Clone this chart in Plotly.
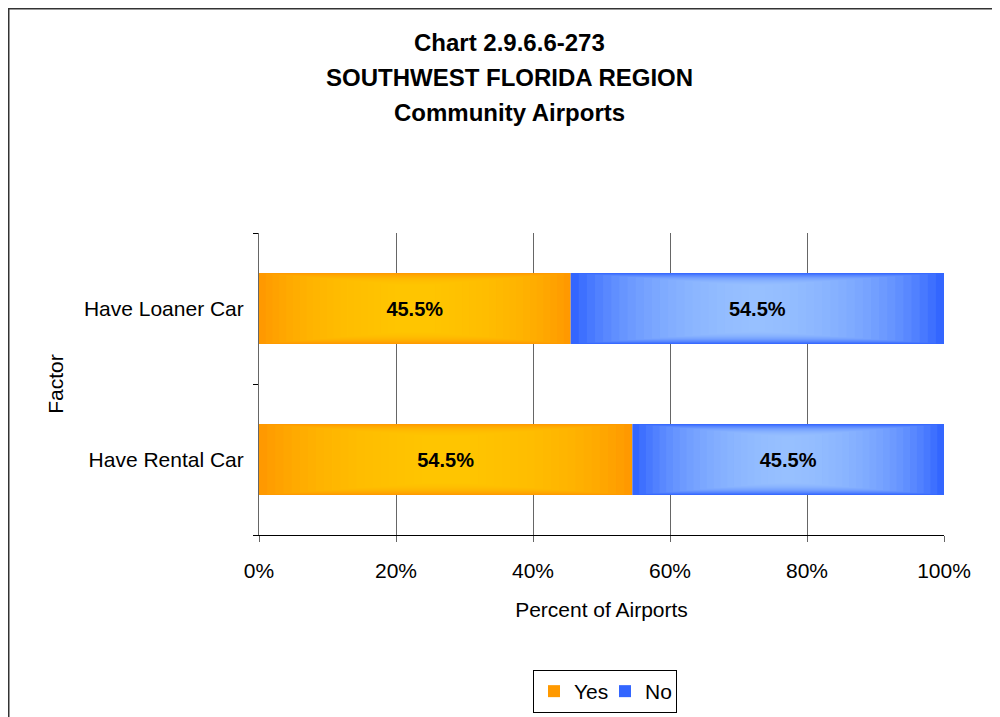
import plotly.graph_objects as go

categories = ["Have Rental Car", "Have Loaner Car"]
yes_vals = [54.5, 45.5]
no_vals = [45.5, 54.5]
x_ticks = [0, 20, 40, 60, 80, 100]
x_tick_labels = ["0%", "20%", "40%", "60%", "80%", "100%"]
title_lines = ["Chart 2.9.6.6-273", "SOUTHWEST FLORIDA REGION", "Community Airports"]

FONT = "Liberation Sans, Arial, sans-serif"
BAR_W = 0.47
N_LAYERS = 22
LAYER_OPACITY = 0.10

series = [
    dict(name="Yes", vals=yes_vals, base=[0 for _ in yes_vals],
         edge="#FF9900", center="#FFD000"),
    dict(name="No", vals=no_vals, base=yes_vals,
         edge="#3366FF", center="#A8D0FF"),
]

fig = go.Figure()

# base bars (edge colour) + gradient layers
for s in series:
    fig.add_trace(go.Bar(
        y=categories, x=s["vals"], base=s["base"], name=s["name"],
        orientation="h", width=BAR_W,
        marker=dict(color=s["edge"], line=dict(width=0)),
        hoverinfo="skip", legendgroup=s["name"],
    ))
    for k in range(1, N_LAYERS + 1):
        h = 1 - k / (N_LAYERS + 1)          # horizontal shrink
        v = 1 - 0.35 * k / N_LAYERS         # vertical shrink
        fig.add_trace(go.Bar(
            y=categories,
            x=[val * h for val in s["vals"]],
            base=[b + val * (1 - h) / 2 for b, val in zip(s["base"], s["vals"])],
            orientation="h", width=BAR_W * v,
            marker=dict(color=s["center"], opacity=LAYER_OPACITY, line=dict(width=0)),
            showlegend=False, hoverinfo="skip", legendgroup=s["name"],
        ))

# data labels
for s in series:
    fig.add_trace(go.Bar(
        y=categories, x=s["vals"], base=s["base"], orientation="h",
        width=BAR_W, marker=dict(color="rgba(0,0,0,0)", line=dict(width=0)),
        text=[f"{v:.1f}%" for v in s["vals"]], textposition="inside",
        insidetextanchor="middle", textangle=0,
        textfont=dict(family=FONT, size=20, color="black", weight="bold"),
        showlegend=False, hoverinfo="skip",
    ))

# plot area in figure px: x 251..936, y 225..527
PL, PR, PT, PB = 251, 936, 225, 527
PW, PH = PR - PL, PB - PT

def px_to_paper_x(px):
    return (px - PL) / PW

def px_to_paper_y(py):
    return (PB - py) / PH

annotations = []
for line, yc in zip(title_lines, [35, 70, 104]):
    annotations.append(dict(
        text=line, xref="paper", yref="paper",
        x=px_to_paper_x(501), y=px_to_paper_y(yc),
        xanchor="center", yanchor="middle", showarrow=False,
        font=dict(family=FONT, size=24, color="black", weight="bold"),
    ))

fig.update_layout(
    barmode="overlay",
    width=1000, height=717,
    margin=dict(l=PL, r=1000 - PR, t=PT, b=717 - PB),
    paper_bgcolor="white", plot_bgcolor="white",
    font=dict(family=FONT, size=21, color="black"),
    showlegend=True,
    legend=dict(
        orientation="h", x=px_to_paper_x(597), xanchor="center",
        y=px_to_paper_y(662), yanchor="top",
        bordercolor="black", borderwidth=1, bgcolor="white",
        font=dict(family=FONT, size=21, color="black"),
        traceorder="normal", itemwidth=30, entrywidth=26,
    ),
    uniformtext=dict(minsize=10, mode="show"),
    annotations=annotations,
    shapes=[dict(
        type="rect", xref="paper", yref="paper",
        x0=px_to_paper_x(0.5), x1=1.5, y0=-1.0, y1=px_to_paper_y(0.5),
        line=dict(color="#333333", width=2), fillcolor="rgba(0,0,0,0)",
        layer="below",
    )],
)

fig.update_xaxes(
    range=[0, 100], tickvals=x_ticks, ticktext=x_tick_labels,
    showgrid=True, gridcolor="#666666", gridwidth=1,
    showline=True, linecolor="black", linewidth=1,
    ticks="outside", ticklen=6, tickcolor="#666666",
    ticklabelstandoff=11,
    tickfont=dict(family=FONT, size=21, color="black"),
    title=dict(text="Percent of Airports", standoff=21,
               font=dict(family=FONT, size=21, color="black")),
    zeroline=False, fixedrange=True,
)
fig.update_yaxes(
    showline=True, linecolor="#666666", linewidth=1,
    ticks="outside", tickson="boundaries", ticklen=5, tickcolor="black",
    ticklabelstandoff=10,
    tickfont=dict(family=FONT, size=21, color="black"),
    title=dict(text="Factor", standoff=14,
               font=dict(family=FONT, size=21, color="black")),
    showgrid=False, zeroline=False, fixedrange=True,
)

fig.write_html("out.html")
